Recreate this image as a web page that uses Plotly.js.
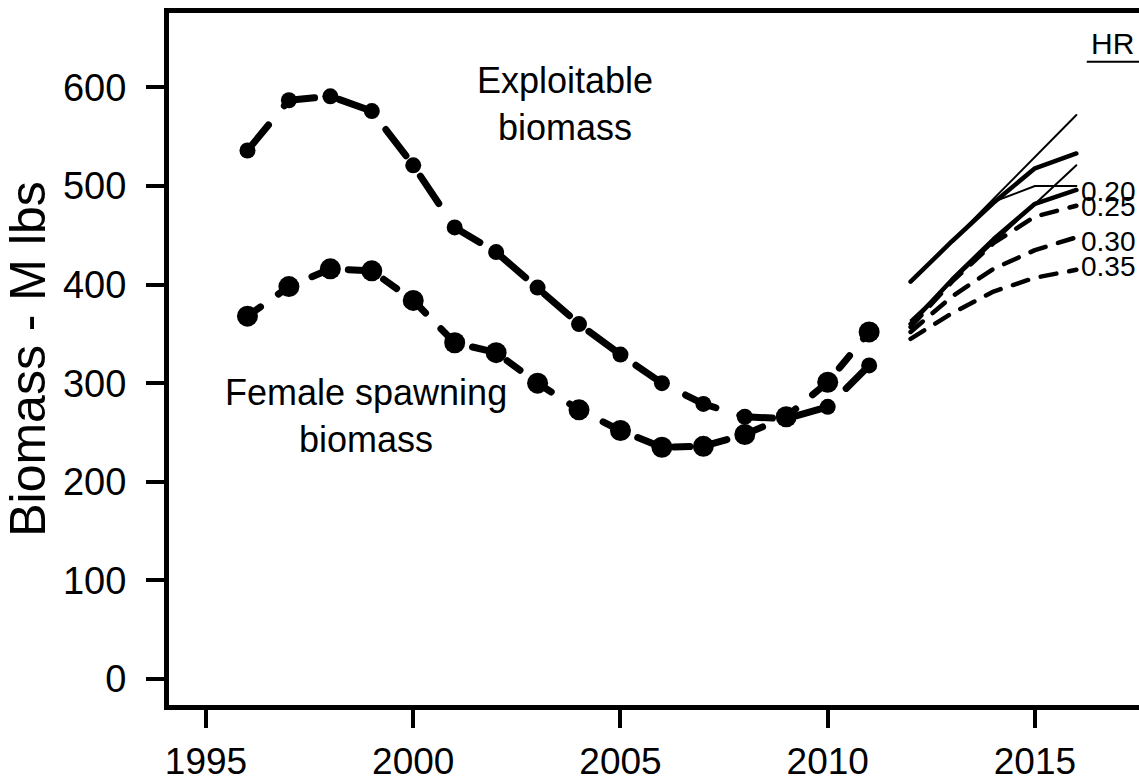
<!DOCTYPE html>
<html>
<head>
<meta charset="utf-8">
<script src="https://cdn.plot.ly/plotly-3.0.1.min.js"></script>
<style>
  html, body { margin: 0; padding: 0; background: #fff; overflow: hidden; }
  #chart { width: 1240px; height: 783px; }
  .scatterlayer .js-line { stroke-linecap: round; stroke-linejoin: round; }
</style>
</head>
<body>
<div id="chart"></div>
<script>
// ---- data ----
const years = [1996, 1997, 1998, 1999, 2000, 2001, 2002, 2003, 2004, 2005, 2006, 2007, 2008, 2009, 2010, 2011];
const exploitable = [536, 587, 591, 576, 521, 458, 433, 397, 360, 329, 300, 279, 266, 264, 276, 318];
const femaleSpawning = [368, 398, 416, 414, 384, 341, 331, 300, 273, 252, 235, 236, 248, 266, 301, 352];

const projYears = [2012, 2013, 2014, 2015, 2016];
const projUpperThinA = [403, 444, 487, 529, 572];
const projUpperThick = [403, 444, 483, 518, 533];
const projUpperThinB = [403, 444, 484, 500, 500];
const projLowerThin = [364, 403, 442, 482, 521];
const projLowerThick = [360, 405, 446, 482, 496];
const projHR025 = [357, 403, 442, 469, 480];
const projHR030 = [352, 388, 416, 435, 448];
const projHR035 = [345, 371, 393, 407, 415];

const hrLabels = ['0.20', '0.25', '0.30', '0.35'];
const hrLabelValues = [494, 479, 444, 418];

const xTicks = [1995, 2000, 2005, 2010, 2015];
const yTicks = [0, 100, 200, 300, 400, 500, 600];

const FONT = 'Liberation Sans, Arial, Helvetica, sans-serif';

function projTrace(y, width, dash) {
  return {
    x: projYears, y: y, type: 'scatter', mode: 'lines',
    line: { color: '#000', width: width, dash: dash || 'solid' },
    hoverinfo: 'skip'
  };
}

const traces = [
  {
    x: years, y: exploitable, type: 'scatter', mode: 'lines+markers',
    name: 'Exploitable biomass',
    line: { color: '#000', width: 7, dash: '33px,25px' },
    marker: { color: '#000', size: 16 }
  },
  {
    x: years, y: femaleSpawning, type: 'scatter', mode: 'lines+markers',
    name: 'Female spawning biomass',
    line: { color: '#000', width: 7, dash: '16px,22px' },
    marker: { color: '#000', size: 21 }
  },
  projTrace(projUpperThinA, 2),
  projTrace(projUpperThick, 4.5),
  projTrace(projUpperThinB, 2),
  projTrace(projLowerThin, 2),
  projTrace(projLowerThick, 4.5),
  projTrace(projHR025, 4.5, '16px,13px'),
  projTrace(projHR030, 4.5, '16px,13px'),
  projTrace(projHR035, 4.5, '16px,13px')
];

const annotations = [
  { x: 2003.66, y: 583, text: 'Exploitable<br>biomass', showarrow: false,
    xanchor: 'center', yanchor: 'middle', font: { family: FONT, size: 36, color: '#000' } },
  { x: 1998.86, y: 267, text: 'Female spawning<br>biomass', showarrow: false,
    xanchor: 'center', yanchor: 'middle', font: { family: FONT, size: 36, color: '#000' } },
  { x: 2016.86, y: 645, text: 'HR', showarrow: false,
    xanchor: 'center', yanchor: 'middle', font: { family: FONT, size: 30, color: '#000' } }
];
hrLabels.forEach(function (t, i) {
  annotations.push({ x: 2016.1, y: hrLabelValues[i], text: t, showarrow: false,
    xanchor: 'left', yanchor: 'middle', xshift: -2,
    font: { family: FONT, size: 28, color: '#000' } });
});

const layout = {
  width: 1240, height: 783,
  margin: { l: 169, r: 60, t: 13, b: 78 },
  paper_bgcolor: '#fff', plot_bgcolor: '#fff',
  showlegend: false,
  font: { family: FONT, color: '#000' },
  xaxis: {
    range: [1994.107, 2018.5],
    tickmode: 'array', tickvals: xTicks, ticktext: xTicks.map(String),
    ticks: 'outside', ticklen: 18, tickwidth: 4, tickcolor: '#000',
    showline: true, linewidth: 5, linecolor: '#000', mirror: true,
    showgrid: false, zeroline: false,
    tickfont: { family: FONT, size: 37, color: '#000' },
    ticklabelstandoff: 2
  },
  yaxis: {
    range: [-26.4, 675.5],
    tickmode: 'array', tickvals: yTicks, ticktext: yTicks.map(String),
    ticks: 'outside', ticklen: 18, tickwidth: 4, tickcolor: '#000',
    showline: true, linewidth: 5, linecolor: '#000', mirror: true,
    showgrid: false, zeroline: false,
    tickfont: { family: FONT, size: 38, color: '#000' },
    ticklabelstandoff: 12,
    title: { text: 'Biomass - M lbs', font: { family: FONT, size: 50, color: '#000' }, standoff: 12 }
  },
  annotations: annotations,
  shapes: [
    { type: 'line', xref: 'x', yref: 'y', x0: 2016.25, x1: 2017.8, y0: 626, y1: 626,
      line: { color: '#000', width: 2 } }
  ]
};

Plotly.newPlot('chart', traces, layout, { staticPlot: true, displayModeBar: false });
</script>
</body>
</html>
